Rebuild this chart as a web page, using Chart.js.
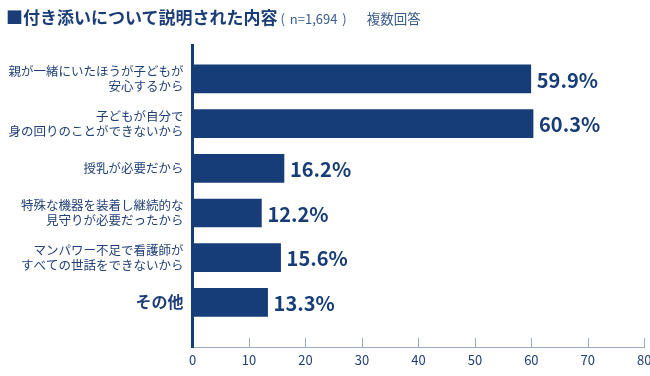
<!DOCTYPE html>
<html><head><meta charset="utf-8">
<script src="https://cdn.jsdelivr.net/npm/chart.js@4"></script>
<style>
html,body{margin:0;padding:0;width:650px;height:376px;overflow:hidden;background:#fff;}
#wrap{position:absolute;left:0;top:0;width:660px;height:376px;}
#title{position:absolute;left:6px;top:4px;white-space:nowrap;font-family:"Noto Sans CJK JP";color:#1a3d78;}
#title .main{font-size:17px;font-weight:bold;}
#title .n{font-size:13px;color:#3a5b90;margin-left:3px;word-spacing:2px;}
#title .m{font-size:13.5px;color:#3a5b90;margin-left:20px;}
</style></head>
<body>
<div id="wrap"><canvas id="c"></canvas></div>
<div id="title"><span class="main">■付き添いについて説明された内容</span><span class="n">( n=1,694 )</span><span class="m">複数回答</span></div>
<script>
const categories = [
  ["親が一緒にいたほうが子どもが","安心するから"],
  ["子どもが自分で","身の回りのことができないから"],
  "授乳が必要だから",
  ["特殊な機器を装着し継続的な","見守りが必要だったから"],
  ["マンパワー不足で看護師が","すべての世話をできないから"],
  "その他"
];
const values = [59.9, 60.3, 16.2, 12.2, 15.6, 13.3];
const xTicks = [0, 10, 20, 30, 40, 50, 60, 70, 80];

const navy = '#173d78';
const textColor = '#1f3f78';

const valueLabels = {
  id: 'valueLabels',
  afterDatasetsDraw(chart) {
    const ctx = chart.ctx;
    const meta = chart.getDatasetMeta(0);
    ctx.save();
    ctx.font = 'bold 20px "Noto Sans CJK JP"';
    ctx.fillStyle = navy;
    ctx.textBaseline = 'middle';
    ctx.textAlign = 'left';
    meta.data.forEach((bar, i) => {
      ctx.fillText(values[i].toFixed(1) + '%', bar.x + 6, bar.y + 1);
    });
    ctx.restore();
  }
};
const upTicks = {
  id: 'upTicks',
  afterDraw(chart) {
    const ctx = chart.ctx;
    const xs = chart.scales.x;
    const y0 = chart.chartArea.bottom;
    ctx.save();
    ctx.strokeStyle = '#9aabc6';
    ctx.lineWidth = 1;
    xTicks.slice(1).forEach(v => {
      const px = Math.round(xs.getPixelForValue(v)) + 0.5;
      ctx.beginPath();
      ctx.moveTo(px, y0);
      ctx.lineTo(px, y0 - 9);
      ctx.stroke();
    });
    ctx.restore();
  }
};

new Chart(document.getElementById('c'), {
  type: 'bar',
  data: {
    datasets: [{
      data: values.map((v, i) => ({x: v, y: i})),
      backgroundColor: navy,
      barThickness: 28
    }]
  },
  options: {
    indexAxis: 'y',
    responsive: true,
    maintainAspectRatio: false,
    animation: false,
    layout: {padding: {top: 45, right: 15.7, left: 0, bottom: 0}},
    plugins: {legend: {display: false}, tooltip: {enabled: false}},
    scales: {
      x: {
        type: 'linear', min: 0, max: 80,
        afterBuildTicks: s => { s.ticks = xTicks.map(v => ({value: v})); },
        afterFit: s => { s.height = 29; },
        grid: {display: false, drawTicks: false},
        border: {display: true, color: '#9aabc6', width: 1},
        ticks: {color: textColor, font: {family: '"Noto Sans CJK JP"', size: 13}, padding: 5, maxRotation: 0}
      },
      y: {
        type: 'linear', min: -0.76, max: 6, reverse: true, offset: false,
        afterBuildTicks: s => { s.ticks = categories.map((c, i) => ({value: i})); },
        afterFit: s => { s.width = 192.5; },
        grid: {display: false, drawTicks: false, offset: false},
        border: {display: true, color: navy, width: 3},
        ticks: {
          autoSkip: false,
          color: textColor,
          padding: 9,
          callback: v => categories[v],
          font: ctx => (ctx.tick && ctx.tick.value === 5)
            ? {family: '"Noto Sans CJK JP"', size: 16, weight: 'bold', lineHeight: 1.2}
            : {family: '"Noto Sans CJK JP"', size: 12.5, lineHeight: 1.2}
        }
      }
    }
  },
  plugins: [valueLabels, upTicks]
});
</script>
</body></html>
